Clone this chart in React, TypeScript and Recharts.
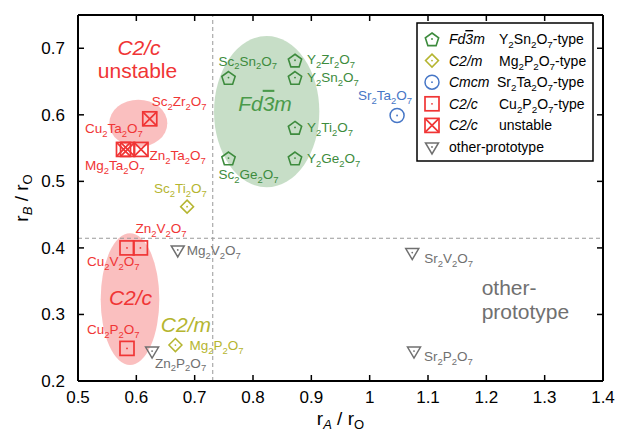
import React from "react";
import {
  ScatterChart,
  Scatter,
  XAxis,
  YAxis,
  ReferenceLine,
  ReferenceArea,
  ReferenceDot,
} from "recharts";

const FONT = '"Liberation Sans", Arial, Helvetica, sans-serif';
const RED = "#f03535";
const GREEN = "#3d8b3d";
const OLIVE = "#b5b530";
const BLUE = "#4676c6";
const GRAY = "#707070";

const X_TICKS = [0.5, 0.6, 0.7, 0.8, 0.9, 1, 1.1, 1.2, 1.3, 1.4];
const Y_TICKS = [0.2, 0.3, 0.4, 0.5, 0.6, 0.7];

// Fd-3m, Y2Sn2O7-type
const fd3m = [
  { name: "Sc2Sn2O7", x: 0.758, y: 0.656 },
  { name: "Y2Zr2O7", x: 0.872, y: 0.682 },
  { name: "Y2Sn2O7", x: 0.872, y: 0.656 },
  { name: "Y2Ti2O7", x: 0.872, y: 0.581 },
  { name: "Y2Ge2O7", x: 0.872, y: 0.535 },
  { name: "Sc2Ge2O7", x: 0.758, y: 0.535 },
];
// C2/m, Mg2P2O7-type
const c2m = [
  { name: "Sc2Ti2O7", x: 0.687, y: 0.462 },
  { name: "Mg2P2O7", x: 0.667, y: 0.254 },
];
// Cmcm, Sr2Ta2O7-type
const cmcm = [{ name: "Sr2Ta2O7", x: 1.047, y: 0.599 }];
// C2/c, Cu2P2O7-type
const c2c = [
  { name: "Cu2V2O7", x: 0.584, y: 0.4 },
  { name: "Zn2V2O7", x: 0.607, y: 0.4 },
  { name: "Cu2P2O7", x: 0.584, y: 0.249 },
];
// C2/c, unstable
const unstable = [
  { name: "Sc2Zr2O7", x: 0.623, y: 0.594 },
  { name: "Cu2Ta2O7", x: 0.578, y: 0.548 },
  { name: "Mg2Ta2O7", x: 0.585, y: 0.548 },
  { name: "Zn2Ta2O7", x: 0.608, y: 0.548 },
];
// other prototypes
const other = [
  { name: "Mg2V2O7", x: 0.671, y: 0.397 },
  { name: "Zn2P2O7", x: 0.627, y: 0.245 },
  { name: "Sr2V2O7", x: 1.073, y: 0.393 },
  { name: "Sr2P2O7", x: 1.076, y: 0.245 },
];

// pixel offset of each compound label from its marker
const LABEL_POS: Record<string, [number, number]> = {
  Sc2Sn2O7: [-10, -12],
  Y2Zr2O7: [12, 4],
  Y2Sn2O7: [12, 4.5],
  Y2Ti2O7: [12, 5],
  Y2Ge2O7: [12, 5],
  Sc2Ge2O7: [-10, 21],
  Sr2Ta2O7: [-39, -15],
  Sc2Zr2O7: [2, -13],
  Cu2Ta2O7: [-38.5, -16],
  Mg2Ta2O7: [-42.5, 21],
  Zn2Ta2O7: [8.5, 10.5],
  Sc2Ti2O7: [-33, -13.5],
  Mg2P2O7: [14, 5],
  Zn2V2O7: [-5, -15],
  Cu2V2O7: [-40, 18.5],
  Cu2P2O7: [-40, -14],
  Mg2V2O7: [9, 5],
  Zn2P2O7: [3, 16.5],
  Sr2V2O7: [12, 10.5],
  Sr2P2O7: [10, 10],
};

function formula(
  text: string,
  x: number,
  y: number,
  color: string,
  size: number,
  anchor: "start" | "middle" | "end" = "start"
) {
  const parts = text.match(/\d+|\D+/g) || [];
  const sh = size * 0.28;
  let down = false;
  const kids = parts.map((p, i) => {
    if (/\d/.test(p)) {
      const el = (
        <tspan key={i} fontSize={size * 0.7} dy={down ? 0 : sh}>
          {p}
        </tspan>
      );
      down = true;
      return el;
    }
    const el = (
      <tspan key={i} dy={down ? -sh : 0}>
        {p}
      </tspan>
    );
    down = false;
    return el;
  });
  return (
    <text x={x} y={y} fill={color} fontSize={size} textAnchor={anchor}>
      {kids}
    </text>
  );
}

function marker(kind: string, cx: number, cy: number, color: string) {
  const dot = <circle cx={cx} cy={cy} r={0.9} fill={color} />;
  if (kind === "pentagon") {
    const R = 7;
    const pts = [0, 1, 2, 3, 4]
      .map((k) => {
        const a = ((-90 + 72 * k) * Math.PI) / 180;
        return `${cx + R * Math.cos(a)},${cy + 1 + R * Math.sin(a)}`;
      })
      .join(" ");
    return (
      <g>
        <polygon points={pts} fill="none" stroke={color} strokeWidth={1.6} />
        {dot}
      </g>
    );
  }
  if (kind === "diamond") {
    const d = 6.5;
    return (
      <g>
        <polygon
          points={`${cx},${cy - d} ${cx + d},${cy} ${cx},${cy + d} ${cx - d},${cy}`}
          fill="none"
          stroke={color}
          strokeWidth={1.5}
        />
        {dot}
      </g>
    );
  }
  if (kind === "circle") {
    return (
      <g>
        <circle cx={cx} cy={cy} r={7} fill="none" stroke={color} strokeWidth={1.5} />
        {dot}
      </g>
    );
  }
  if (kind === "square" || kind === "cross") {
    const h = 7;
    return (
      <g>
        <rect x={cx - h} y={cy - h} width={2 * h} height={2 * h} fill="none" stroke={color} strokeWidth={1.7} />
        {kind === "cross" ? (
          <path
            d={`M${cx - h},${cy - h}L${cx + h},${cy + h}M${cx + h},${cy - h}L${cx - h},${cy + h}`}
            stroke={color}
            strokeWidth={1.7}
          />
        ) : (
          dot
        )}
      </g>
    );
  }
  // downward triangle
  return (
    <g>
      <polygon
        points={`${cx - 6.5},${cy - 4} ${cx + 6.5},${cy - 4} ${cx},${cy + 7}`}
        fill="none"
        stroke={color}
        strokeWidth={1.5}
      />
      {dot}
    </g>
  );
}

const makeShape = (kind: string, color: string) => (props: any) => {
  const { cx, cy, payload } = props;
  const [dx, dy] = LABEL_POS[payload.name] || [10, 5];
  return (
    <g>
      {marker(kind, cx, cy, color)}
      {formula(payload.name, cx + dx, cy + dy, color, 13.5)}
    </g>
  );
};

const ellipse = (fill: string) => (props: any) => {
  const { x, y, width, height } = props;
  return (
    <ellipse
      cx={x + width / 2}
      cy={y + height / 2}
      rx={Math.abs(width) / 2}
      ry={Math.abs(height) / 2}
      fill={fill}
      stroke="none"
    />
  );
};

const note = (
  content: React.ReactNode,
  color: string,
  italic: boolean,
  anchor: "start" | "middle" = "middle"
) => (props: any) => (
  <text
    x={props.cx}
    y={props.cy}
    fill={color}
    fontSize={21}
    fontStyle={italic ? "italic" : "normal"}
    textAnchor={anchor}
  >
    {content}
  </text>
);

const fmt = (v: number) => (Number.isInteger(v) ? String(v) : v.toFixed(1));

const BottomTick = (props: any) => {
  const { x, y, payload } = props;
  return (
    <g>
      <line x1={x} x2={x} y1={y} y2={y - 6} stroke="#000" strokeWidth={1.5} />
      <text x={x} y={y + 22} textAnchor="middle" fontSize={17} fill="#000">
        {fmt(payload.value)}
      </text>
    </g>
  );
};
const TopTick = (props: any) => (
  <line x1={props.x} x2={props.x} y1={props.y} y2={props.y + 6} stroke="#000" strokeWidth={1.5} />
);
const LeftTick = (props: any) => {
  const { x, y, payload } = props;
  return (
    <g>
      <line x1={x} x2={x + 6} y1={y} y2={y} stroke="#000" strokeWidth={1.5} />
      <text x={x - 13} y={y + 6} textAnchor="end" fontSize={17} fill="#000">
        {fmt(payload.value)}
      </text>
    </g>
  );
};
const RightTick = (props: any) => (
  <line x1={props.x} x2={props.x - 6} y1={props.y} y2={props.y} stroke="#000" strokeWidth={1.5} />
);

const XLabel = (props: any) => {
  const { x, y, width } = props.viewBox;
  return (
    <text x={x + width / 2} y={y + 44} textAnchor="middle" fontSize={19} fill="#000">
      <tspan>r</tspan>
      <tspan fontSize={13} dy={4} fontStyle="italic">A</tspan>
      <tspan dy={-4}> / r</tspan>
      <tspan fontSize={13} dy={4}>O</tspan>
    </text>
  );
};
const YLabel = (props: any) => {
  const { y, height } = props.viewBox;
  const cy = y + height / 2;
  return (
    <text x={0} y={0} transform={`translate(28,${cy}) rotate(-90)`} textAnchor="middle" fontSize={19} fill="#000">
      <tspan>r</tspan>
      <tspan fontSize={13} dy={4} fontStyle="italic">B</tspan>
      <tspan dy={-4}> / r</tspan>
      <tspan fontSize={13} dy={4}>O</tspan>
    </text>
  );
};

const LEGEND_ROWS = [
  { kind: "pentagon", color: GREEN, group: "Fd3m", type: "Y2Sn2O7-type" },
  { kind: "diamond", color: OLIVE, group: "C2/m", type: "Mg2P2O7-type" },
  { kind: "circle", color: BLUE, group: "Cmcm", type: "Sr2Ta2O7-type" },
  { kind: "square", color: RED, group: "C2/c", type: "Cu2P2O7-type" },
  { kind: "cross", color: RED, group: "C2/c", type: "unstable" },
  { kind: "triangle", color: GRAY, group: "", type: "other-prototype" },
];

function groupText(g: string) {
  if (g === "Fd3m")
    return (
      <>
        Fd<tspan textDecoration="overline">3</tspan>m
      </>
    );
  return g;
}

function LegendBox() {
  return (
    <svg
      width={178}
      height={140}
      style={{ position: "absolute", left: 416, top: 22, fontFamily: FONT }}
    >
      <rect x={1} y={1} width={176} height={138} fill="#fff" stroke="#000" strokeWidth={1.5} />
      {LEGEND_ROWS.map((r, i) => {
        const cy = 17 + i * 21.6;
        return (
          <g key={i}>
            {marker(r.kind, 16, cy, r.color)}
            {r.group ? (
              <text x={33} y={cy + 5} fontSize={14} fontStyle="italic" fill="#000">
                {groupText(r.group)}
              </text>
            ) : null}
            {r.group
              ? formula(r.type, r.group === "Cmcm" ? 81 : 83, cy + 5, "#000", 14)
              : formula(r.type, 33, cy + 5, "#000", 14)}
          </g>
        );
      })}
    </svg>
  );
}

export default function App() {
  return (
    <div style={{ position: "absolute", left: 0, top: 0, width: 619, height: 437, background: "#fff", fontFamily: FONT }}>
      <ScatterChart width={619} height={437} margin={{ top: 5, right: 6, bottom: 6, left: 0 }}>
        <XAxis
          xAxisId="b"
          type="number"
          dataKey="x"
          domain={[0.5, 1.4]}
          ticks={X_TICKS}
          interval={0}
          height={50}
          tickSize={0}
          tickMargin={0}
          tickLine={false}
          tick={<BottomTick />}
          axisLine={{ stroke: "#000", strokeWidth: 2 }}
          allowDataOverflow
          label={<XLabel />}
        />
        <XAxis
          xAxisId="t"
          orientation="top"
          type="number"
          dataKey="x"
          domain={[0.5, 1.4]}
          ticks={X_TICKS}
          interval={0}
          height={10}
          tickSize={0}
          tickMargin={0}
          tickLine={false}
          tick={<TopTick />}
          axisLine={{ stroke: "#000", strokeWidth: 2 }}
          allowDataOverflow
        />
        <YAxis
          yAxisId="l"
          type="number"
          dataKey="y"
          domain={[0.2, 0.75]}
          ticks={Y_TICKS}
          interval={0}
          width={78}
          tickSize={0}
          tickMargin={0}
          tickLine={false}
          tick={<LeftTick />}
          axisLine={{ stroke: "#000", strokeWidth: 2 }}
          allowDataOverflow
          label={<YLabel />}
        />
        <YAxis
          yAxisId="r"
          orientation="right"
          type="number"
          dataKey="y"
          domain={[0.2, 0.75]}
          ticks={Y_TICKS}
          interval={0}
          width={10}
          tickSize={0}
          tickMargin={0}
          tickLine={false}
          tick={<RightTick />}
          axisLine={{ stroke: "#000", strokeWidth: 2 }}
          allowDataOverflow
        />

        <ReferenceArea xAxisId="b" yAxisId="l" x1={0.5537} x2={0.6531} y1={0.5516} y2={0.6228} shape={ellipse("rgba(240,60,60,0.33)")} />
        <ReferenceArea xAxisId="b" yAxisId="l" x1={0.7332} x2={0.9137} y1={0.4911} y2={0.7184} shape={ellipse("rgba(70,145,70,0.3)")} />
        <ReferenceArea xAxisId="b" yAxisId="l" x1={0.5389} x2={0.6394} y1={0.224} y2={0.4219} shape={ellipse("rgba(240,60,60,0.33)")} />

        <ReferenceLine xAxisId="b" yAxisId="l" x={0.731} stroke="#999" strokeDasharray="4 3" strokeWidth={1} />
        <ReferenceLine xAxisId="b" yAxisId="l" y={0.4145} stroke="#999" strokeDasharray="4 3" strokeWidth={1} />

        <ReferenceDot xAxisId="b" yAxisId="l" x={0.6046} y={0.69} ifOverflow="visible" shape={note("C2/c", RED, true)} />
        <ReferenceDot xAxisId="b" yAxisId="l" x={0.602} y={0.655} ifOverflow="visible" shape={note("unstable", RED, false)} />
        <ReferenceDot
          xAxisId="b"
          yAxisId="l"
          x={0.8206}
          y={0.606}
          ifOverflow="visible"
          shape={note(groupText("Fd3m"), "#4a9a4a", true)}
        />
        <ReferenceDot xAxisId="b" yAxisId="l" x={0.59} y={0.314} ifOverflow="visible" shape={note("C2/c", RED, true)} />
        <ReferenceDot xAxisId="b" yAxisId="l" x={0.685} y={0.274} ifOverflow="visible" shape={note("C2/m", OLIVE, true)} />
        <ReferenceDot xAxisId="b" yAxisId="l" x={1.192} y={0.329} ifOverflow="visible" shape={note("other-", GRAY, false, "start")} />
        <ReferenceDot xAxisId="b" yAxisId="l" x={1.192} y={0.293} ifOverflow="visible" shape={note("prototype", GRAY, false, "start")} />

        <Scatter xAxisId="b" yAxisId="l" data={fd3m} shape={makeShape("pentagon", GREEN)} isAnimationActive={false} />
        <Scatter xAxisId="b" yAxisId="l" data={c2m} shape={makeShape("diamond", OLIVE)} isAnimationActive={false} />
        <Scatter xAxisId="b" yAxisId="l" data={cmcm} shape={makeShape("circle", BLUE)} isAnimationActive={false} />
        <Scatter xAxisId="b" yAxisId="l" data={c2c} shape={makeShape("square", RED)} isAnimationActive={false} />
        <Scatter xAxisId="b" yAxisId="l" data={unstable} shape={makeShape("cross", RED)} isAnimationActive={false} />
        <Scatter xAxisId="b" yAxisId="l" data={other} shape={makeShape("triangle", GRAY)} isAnimationActive={false} />
        <Scatter xAxisId="t" yAxisId="r" data={[]} isAnimationActive={false} />
      </ScatterChart>
      <LegendBox />
    </div>
  );
}
